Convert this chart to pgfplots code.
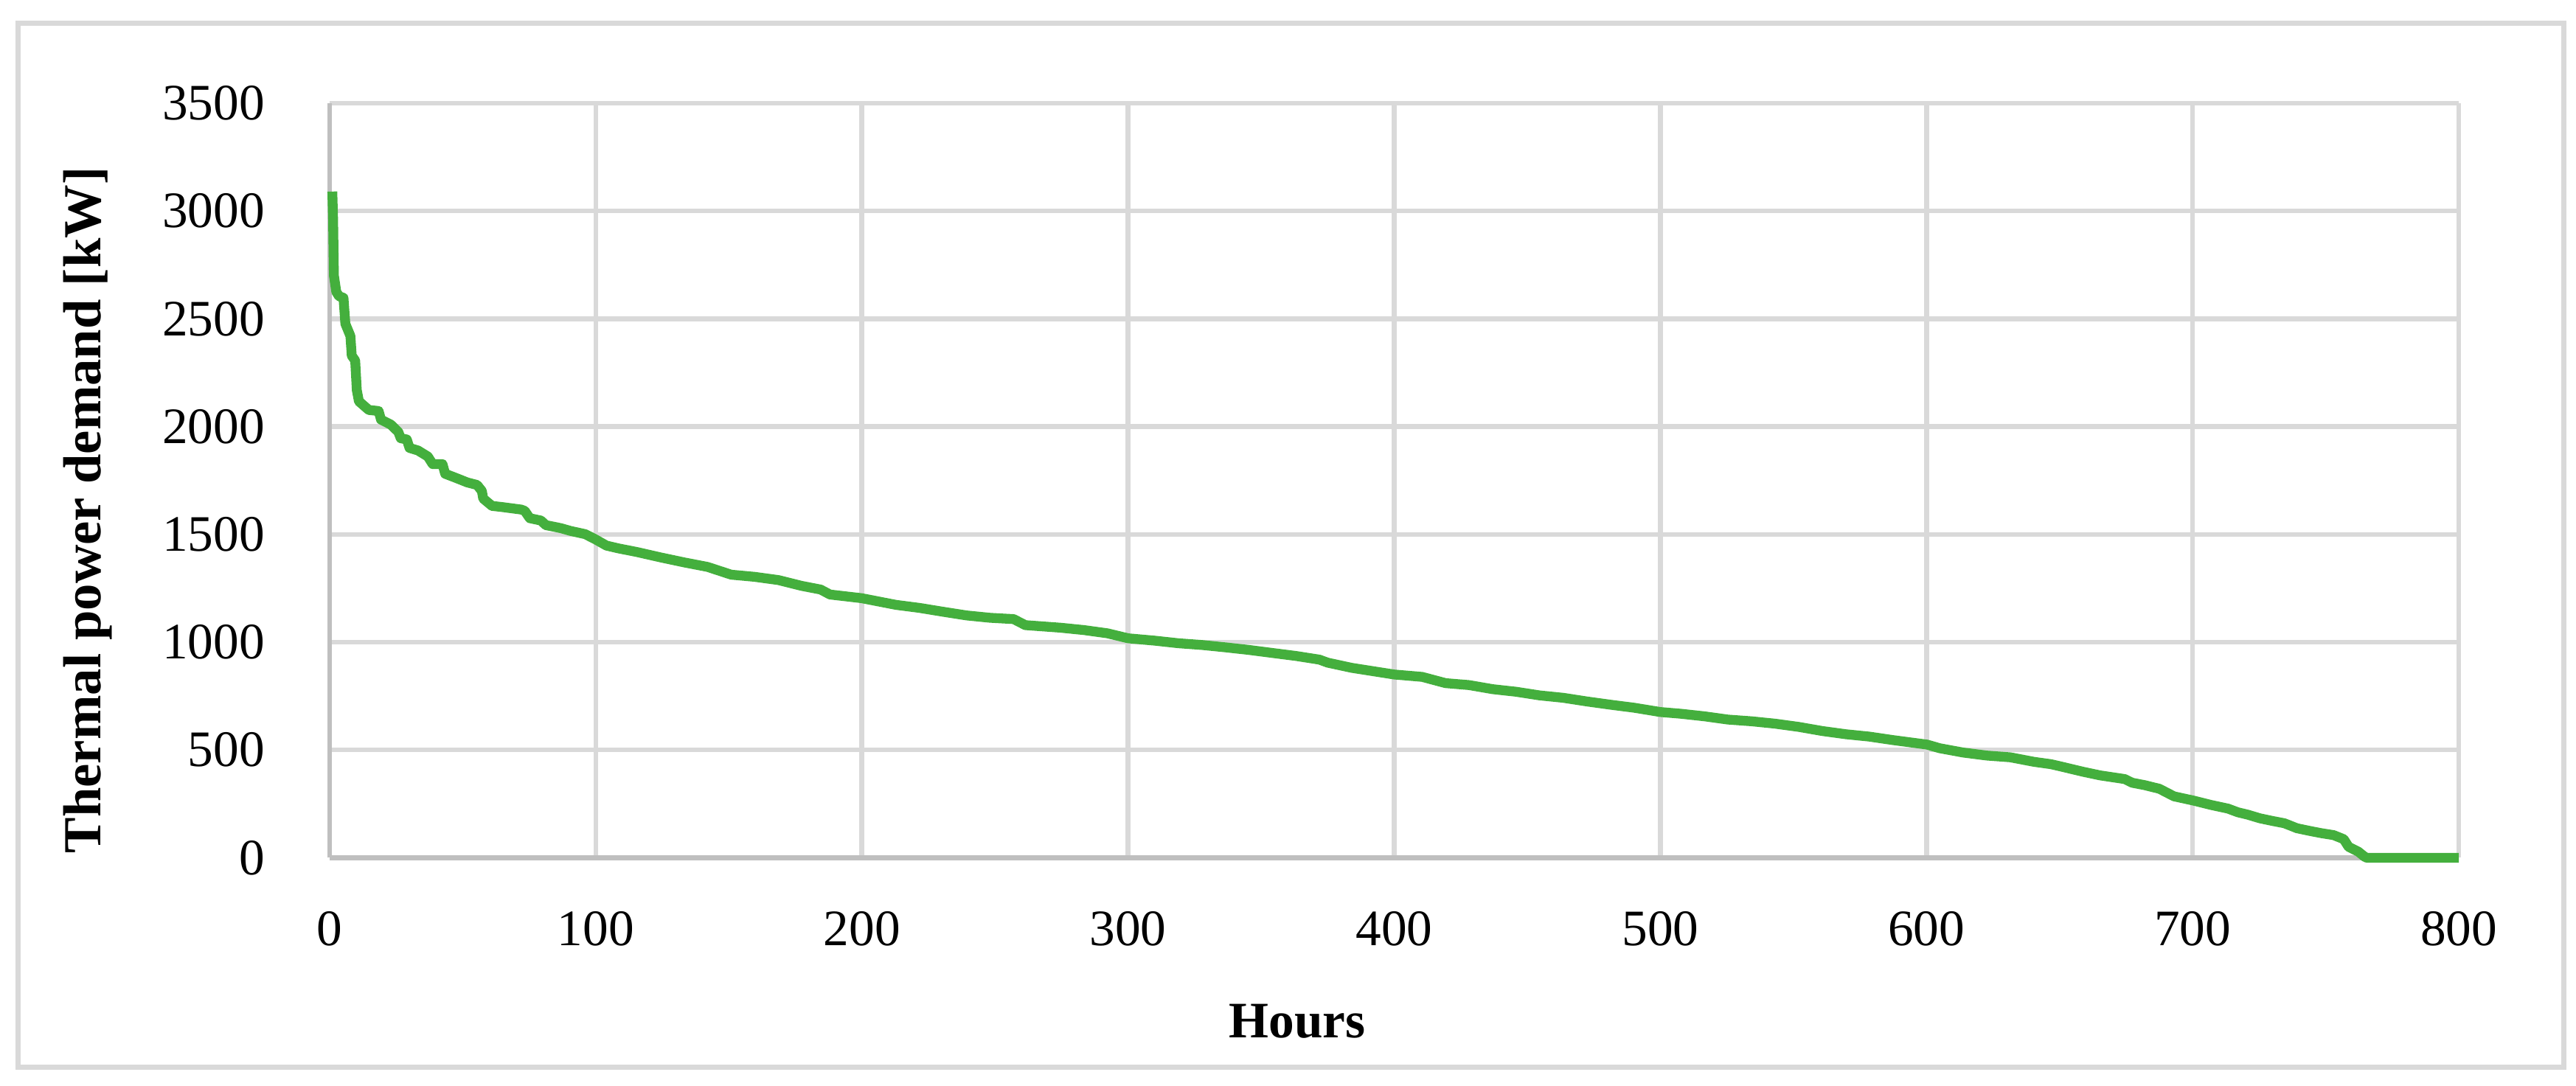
\documentclass[border=0pt]{standalone}
\usepackage{fontspec}
\setmainfont{Liberation Serif}
\usepackage{pgfplots}
\pgfplotsset{compat=1.18}

\definecolor{curvegreen}{HTML}{44AF3D}
\definecolor{gridgray}{HTML}{D9D9D9}
\definecolor{axisgray}{HTML}{BFBFBF}

\begin{document}
\begin{tikzpicture}
  % page size and chart area border
  \path (0,0) rectangle (523.95pt,220.95pt);
  \draw[gridgray, line width=1.05pt] (3.6pt,3.75pt) rectangle (521.4pt,216.15pt);
  \begin{axis}[
    at={(67.05pt,46.43pt)},
    anchor=south west,
    scale only axis,
    width=433.05pt,
    height=153.53pt,
    xmin=0, xmax=800,
    ymin=0, ymax=3500,
    xtick distance=100,
    ytick distance=500,
    clip=false,
    axis x line*=bottom,
    axis y line*=left,
    axis line style={-, draw=axisgray, line width=1pt},
    grid=major,
    major grid style={draw=gridgray, line width=0.98pt},
    major tick length=0pt,
    tick style={draw=none},
    /pgf/number format/assume math mode=true,
    /pgf/number format/1000 sep={},
    scaled ticks=false,
    ticklabel style={font=\fontsize{10.4}{12}\selectfont, inner sep=0pt},
    xticklabel style={anchor=north, yshift=-10.7pt},
    yticklabel style={anchor=east, xshift=-13pt},
    xlabel={Hours},
    ylabel={Thermal power demand [kW]},
    xlabel style={font=\fontsize{10.4}{12}\selectfont\bfseries,
      at={(axis description cs:0.4545,-0.2389)}, anchor=base},
    ylabel style={font=\fontsize{10.9}{12}\selectfont\bfseries,
      at={(axis description cs:-0.1074,0.4607)}, anchor=base},
  ]
    \addplot[color=curvegreen, line width=2pt, line join=round, no marks]
    coordinates {
      (1,3090) (1.3,2960) (1.6,2700) (2.5,2625) (3.5,2605) (5.2,2597)
      (5.9,2477) (7.8,2420) (8.3,2329) (9.6,2306) (10.2,2169) (11,2117)
      (14.7,2077) (18.4,2072) (19.3,2032) (23,2009) (25.8,1975) (26.7,1946)
      (29,1940) (30,1901) (33.2,1889) (36.9,1861) (38.7,1826) (42.4,1826)
      (43.4,1781) (47,1764) (51.7,1741) (55.4,1729) (57.2,1701) (57.7,1666)
      (61,1632) (64.6,1627) (72,1615) (73.3,1609) (75.2,1575) (79.4,1564)
      (81.2,1543) (86.8,1529) (90.5,1516) (96,1501) (99.7,1478) (104,1448)
      (108.5,1435) (115.5,1418) (124.4,1393) (133.2,1370) (142,1349)
      (150.9,1313) (159.7,1303) (168.6,1288) (177.4,1261) (184.5,1244)
      (188,1221) (199.9,1204) (212.8,1173) (221.6,1159) (230.5,1141)
      (239.3,1124) (248.2,1113) (257,1107) (261.4,1079) (274.7,1067)
      (283.5,1056) (292.3,1041) (300,1018) (310,1007) (318.9,995)
      (327.7,987) (336.6,976) (345.4,964) (354.2,950) (363.1,936)
      (371.9,919) (375,905) (384,881) (400,850) (410.5,839) (419.3,810)
      (428.1,801) (437,782) (445.8,770) (454.7,753) (463.5,742) (472.4,725)
      (481.2,710) (490.1,696) (500,676) (507.7,668) (516.6,656) (525.4,641)
      (534.3,633) (543.1,622) (552,607) (560.8,588) (569.7,573) (578.5,562)
      (587.3,546) (600.2,525) (605,508) (613.8,488) (622.7,474) (631.5,466)
      (640.4,445) (646.8,434) (651,422) (658.8,399) (665.3,382) (674.5,365)
      (677.3,348) (681.9,337) (687.5,320) (693,285) (700.4,265) (706.9,245)
      (713.3,228) (717,211) (720.7,200) (725.3,183) (729.9,171) (734.5,160)
      (739.2,137) (743.8,125) (748.4,114) (753,105) (756.8,86) (758.6,51)
      (762.3,28) (764.6,5) (765.5,0) (800,0)
    };
  \end{axis}
\end{tikzpicture}
\end{document}
